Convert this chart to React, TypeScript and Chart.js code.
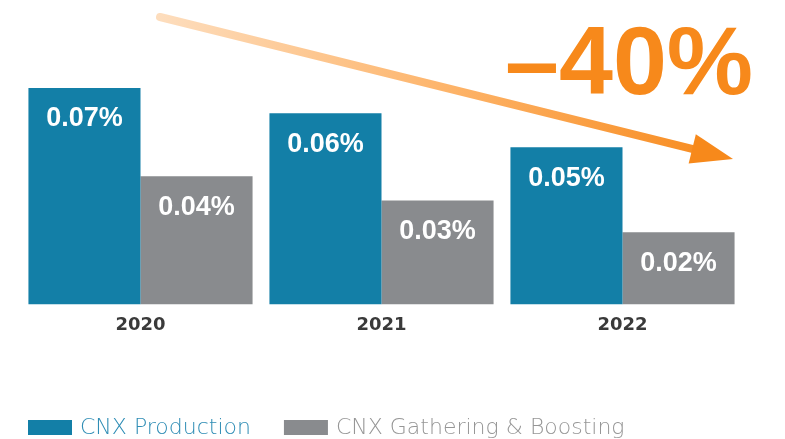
import React, { useEffect, useRef } from 'react';
import { Chart, registerables } from 'chart.js';

Chart.register(...registerables);

const categories = ['2020', '2021', '2022'];
const productionValues = [0.0697, 0.0616, 0.0506];
const gatheringValues = [0.0413, 0.0335, 0.0232];
const seriesNames = ['CNX Production', 'CNX Gathering & Boosting'];
const legendTextColors = ['#2F8DB5', '#969696'];
const changeLabel = '\u201340%';

const BLUE = '#137FA7';
const GREY = '#898B8E';
const ORANGE = '#F7891B';

const overlayPlugin = {
  id: 'overlay',
  afterDatasetsDraw(chart: any) {
    const ctx = chart.ctx;
    ctx.save();
    ctx.font = 'bold 27px "Liberation Sans", Arial, sans-serif';
    ctx.fillStyle = '#ffffff';
    ctx.textAlign = 'center';
    ctx.textBaseline = 'middle';
    chart.data.datasets.forEach((ds: any, di: number) => {
      const meta = chart.getDatasetMeta(di);
      meta.data.forEach((bar: any, i: number) => {
        const v = ds.data[i] as number;
        ctx.fillText(v.toFixed(2) + '%', bar.x, bar.y + 31);
      });
    });
    ctx.restore();
  },
  afterDraw(chart: any) {
    const ctx = chart.ctx;
    ctx.save();
    // trend arrow
    const x0 = 160, y0 = 17, x1 = 733, y1 = 159;
    const ang = Math.atan2(y1 - y0, x1 - x0);
    const headLen = 42, headHalf = 15;
    const bx = x1 - headLen * Math.cos(ang);
    const by = y1 - headLen * Math.sin(ang);
    const grad = ctx.createLinearGradient(x0, y0, x1, y1);
    grad.addColorStop(0, '#FDDDBD');
    grad.addColorStop(0.5, '#FDB46A');
    grad.addColorStop(1, ORANGE);
    ctx.strokeStyle = grad;
    ctx.lineWidth = 8;
    ctx.lineCap = 'round';
    ctx.beginPath();
    ctx.moveTo(x0, y0);
    ctx.lineTo(bx + 4 * Math.cos(ang), by + 4 * Math.sin(ang));
    ctx.stroke();
    ctx.fillStyle = ORANGE;
    ctx.beginPath();
    ctx.moveTo(x1, y1);
    ctx.lineTo(bx + headHalf * Math.sin(ang), by - headHalf * Math.cos(ang));
    ctx.lineTo(bx - headHalf * Math.sin(ang), by + headHalf * Math.cos(ang));
    ctx.closePath();
    ctx.fill();

    ctx.font = 'bold 97px "Liberation Sans", Arial, sans-serif';
    ctx.fillStyle = ORANGE;
    ctx.textAlign = 'left';
    ctx.textBaseline = 'alphabetic';
    ctx.fillText(changeLabel, 505, 94);

    // legend
    ctx.font = '200 22px "DejaVu Sans", sans-serif';
    ctx.textBaseline = 'middle';
    let x = 28;
    const y = 420;
    chart.data.datasets.forEach((ds: any, i: number) => {
      ctx.fillStyle = ds.backgroundColor;
      ctx.fillRect(x, y, 44, 15);
      ctx.fillStyle = legendTextColors[i];
      ctx.fillText(ds.label, x + 52, y + 8);
      x += 52 + ctx.measureText(ds.label).width + 33;
    });
    ctx.restore();
  },
};

export default function App() {
  const ref = useRef<HTMLCanvasElement>(null);
  useEffect(() => {
    if (!ref.current) return;
    const chart = new Chart(ref.current, {
      type: 'bar',
      data: {
        labels: categories,
        datasets: [
          { label: seriesNames[0], data: productionValues, backgroundColor: BLUE, borderWidth: 0 },
          { label: seriesNames[1], data: gatheringValues, backgroundColor: GREY, borderWidth: 0 },
        ],
      },
      options: {
        animation: false,
        responsive: true,
        maintainAspectRatio: false,
        layout: { padding: { top: 56, left: 0, right: 42, bottom: 93 } },
        datasets: { bar: { categoryPercentage: 0.93, barPercentage: 1 } } as any,
        scales: {
          x: {
            grid: { display: false, drawTicks: false },
            border: { display: false },
            ticks: {
              color: '#3a3a3a',
              padding: 10,
              font: { family: '"DejaVu Sans", sans-serif', size: 18, weight: 'bold' },
            },
          },
          y: {
            min: 0,
            max: 0.08,
            display: true,
            grid: { display: false, drawTicks: false },
            border: { display: false },
            ticks: { display: false },
            afterFit: (scale: any) => { scale.width = 20; },
          },
        },
        plugins: {
          tooltip: { enabled: false },
          legend: { display: false },
        },
      },
      plugins: [overlayPlugin],
    });
    return () => chart.destroy();
  }, []);
  return (
    <div style={{ position: 'fixed', left: 0, top: 0, width: 785, height: 439, background: '#fff' }}>
      <canvas ref={ref} />
    </div>
  );
}
